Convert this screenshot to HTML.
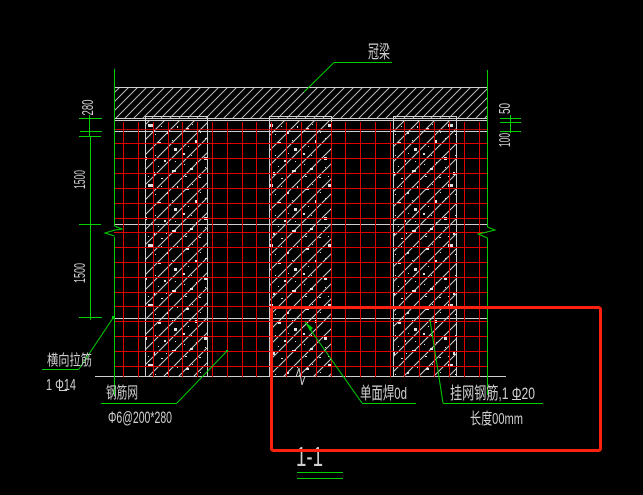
<!DOCTYPE html>
<html><head><meta charset="utf-8"><style>
html,body{margin:0;padding:0;background:#000;width:643px;height:495px;overflow:hidden}
svg{display:block}
text{fill:#cfcfcf;font-family:"Liberation Sans","Noto Sans CJK SC",sans-serif;font-size:14px}
.w{stroke:#cfcfcf;stroke-width:1;fill:none}
.g{stroke:#00d000;stroke-width:1;fill:none}
.r{stroke:#e00000;stroke-width:1;fill:none}
</style></head><body>
<svg width="643" height="495" viewBox="0 0 643 495" xmlns="http://www.w3.org/2000/svg">
<defs>
<pattern id="beam" width="9" height="9" patternUnits="userSpaceOnUse">
<path d="M-1 10L10 -1M-2 2L2 -2M7 11L11 7" stroke="#d0d0d0" stroke-width=".9"/>
</pattern>
<pattern id="conc" width="60" height="60" patternUnits="userSpaceOnUse">
<path d="M-2 17L17 -2M-2 32L32 -2M-2 47L47 -2M-2 62L62 -2M13 62L62 13M28 62L62 28M43 62L62 43M58 62L62 58" stroke="#d4d4d4" stroke-width="1"/>
<g fill="#e0e0e0">
<rect x="6" y="8" width="3" height="2"/><rect x="28" y="4" width="5" height="3"/><rect x="47" y="12" width="2" height="2"/>
<rect x="15" y="20" width="2" height="3"/><rect x="38" y="22" width="3" height="2"/><rect x="54" y="28" width="3" height="3"/>
<rect x="3" y="33" width="2" height="2"/><rect x="24" y="37" width="3" height="3"/><rect x="44" y="40" width="2" height="2"/>
<rect x="10" y="48" width="3" height="2"/><rect x="33" y="52" width="2" height="3"/><rect x="52" y="50" width="4" height="2"/>
<rect x="19" y="57" width="2" height="1"/><rect x="41" y="58" width="2" height="1"/><rect x="57" y="6" width="1" height="2"/>
<rect x="20" y="12" width="1" height="1"/><rect x="35" y="14" width="1" height="1"/><rect x="8" y="26" width="1" height="1"/><rect x="30" y="29" width="1" height="1"/><rect x="48" y="33" width="1" height="1"/><rect x="16" y="42" width="1" height="1"/><rect x="38" y="46" width="1" height="1"/>
<rect x="12" y="4" width="1" height="1"/><rect x="41" y="6" width="1" height="1"/><rect x="25" y="18" width="2" height="1"/><rect x="52" y="20" width="1" height="1"/><rect x="11" y="35" width="1" height="1"/><rect x="35" y="35" width="1" height="1"/><rect x="55" y="41" width="1" height="1"/><rect x="4" y="44" width="1" height="1"/><rect x="25" y="47" width="1" height="1"/><rect x="46" y="53" width="1" height="1"/><rect x="5" y="56" width="2" height="1"/><rect x="28" y="56" width="1" height="1"/>
</g>
</pattern>
</defs>
<rect width="643" height="495" fill="#000"/>

<!-- beam -->
<rect x="115" y="87" width="372" height="31" fill="url(#beam)"/>

<!-- columns -->
<rect x="146" y="121" width="62" height="255" fill="url(#conc)"/>
<rect x="270" y="121" width="62" height="255" fill="url(#conc)"/>
<rect x="394" y="121" width="63" height="255" fill="url(#conc)"/>

<g shape-rendering="crispEdges">
<path class="w" d="M114 87.5H487M114 118.5H487M114 120.5H487M114 131.5H487M114 224.5H487M114 318.5H487M95 376.5H506"/>
<path class="w" d="M145.5 376V116.5H207.5V376M269.5 376V116.5H331.5V376M393.5 376V116.5H456.5V376"/>
</g>

<!-- red mesh -->
<g shape-rendering="crispEdges">
<path class="r" stroke-opacity=".8" d="M114 129.5H487"/>
<path class="r" d="M114 143.5H487M114 158.5H487M114 173.5H487M114 188.5H487M114 203.5H487M114 218.5H487M114 232.5H487M114 247.5H487M114 262.5H487M114 277.5H487M114 292.5H487M114 306.5H487M114 321.5H487M114 336.5H487M114 351.5H487M114 366.5H487"/>
<path class="r" d="M123.5 122V377M138.5 122V377M153.5 122V377M168.5 122V377M182.5 122V377M197.5 122V377M212.5 122V377M227.5 122V377M242.5 122V377M256.5 122V377M271.5 122V377M286.5 122V377M301.5 122V377M316.5 122V377M331.5 122V377M345.5 122V377M360.5 122V377M375.5 122V377M390.5 122V377M404.5 122V377M419.5 122V377M434.5 122V377M449.5 122V377M464.5 122V377M479.5 122V377"/>
</g>

<!-- break in base line -->
<path d="M296 377L299 368L302 385L305 376" stroke="#cfcfcf" fill="none"/>

<!-- green -->
<g shape-rendering="crispEdges">
<path class="g" d="M114.5 69V226M114.5 237V396M487.5 70V227M487.5 238V395"/>
<path class="g" d="M89.5 115V136M90.5 136V320"/>
<path class="g" d="M79 118.5H102M80 131.5H102M79 136.5H101M79 224.5H101M79 317.5H102"/>
<path class="g" d="M510.5 115V133M500 118.5H521M500 122.5H521M500 131.5H521"/>
<path class="g" d="M297 472.5H343M297 478.5H343"/>
<path class="g" d="M334 62.5H392M42 369.5H79M101 403.5H177M362 403.5H416M443 403.5H543"/>
</g>
<path class="g" d="M114.5 226L122 229L115 230L105 233L114.5 236"/>
<path class="g" d="M487.5 227L495 230L487 232L478 234L487.5 238"/>
<path class="g" d="M304 92L334 62.5M79 369L113 318M177 403L227 351M362 403L305 322M443 403L430 320"/>
<path d="M305 322L310 331L313 328Z" fill="#00d000"/>
<rect x="112" y="316" width="3" height="3" fill="#00d000"/>
<rect x="226" y="350" width="2" height="2" fill="#00d000"/>

<!-- dim text -->
<text transform="translate(93,115.5) rotate(-90)" textLength="16" lengthAdjust="spacingAndGlyphs" style="font-size:16px">280</text>
<text transform="translate(85,189) rotate(-90)" textLength="19" lengthAdjust="spacingAndGlyphs" style="font-size:16px">1500</text>
<text transform="translate(85,283) rotate(-90)" textLength="20" lengthAdjust="spacingAndGlyphs" style="font-size:16px">1500</text>
<text transform="translate(510,114) rotate(-90)" textLength="11" lengthAdjust="spacingAndGlyphs" style="font-size:16px">50</text>
<text transform="translate(510,147) rotate(-90)" textLength="14" lengthAdjust="spacingAndGlyphs" style="font-size:16px">100</text>

<!-- labels -->
<text x="368" y="58" textLength="22" lengthAdjust="spacingAndGlyphs" style="font-size:18px">冠梁</text>
<text x="47" y="365" textLength="45" lengthAdjust="spacingAndGlyphs" style="font-size:15px">横向拉筋</text>
<text x="46" y="390" textLength="30" lengthAdjust="spacingAndGlyphs" style="font-size:16px">1 Φ14</text>
<path d="M59 390.5H67" stroke="#cfcfcf"/>
<text x="106" y="398" textLength="32" lengthAdjust="spacingAndGlyphs" style="font-size:16px">钢筋网</text>
<text x="108" y="423" textLength="64" lengthAdjust="spacingAndGlyphs" style="font-size:17px">Φ6@200*280</text>
<text x="360" y="399" textLength="47" lengthAdjust="spacingAndGlyphs" style="font-size:17px">单面焊0d</text>
<text x="450" y="399" textLength="85" lengthAdjust="spacingAndGlyphs" style="font-size:17px">挂网钢筋,1 Φ20</text>
<path d="M512 399.5H521" stroke="#cfcfcf"/>
<text x="470" y="424" textLength="53" lengthAdjust="spacingAndGlyphs" style="font-size:16px">长度00mm</text>
<text x="296" y="466" textLength="27" lengthAdjust="spacingAndGlyphs" style="font-size:28px;font-weight:normal">1-1</text>

<!-- red highlight box -->
<rect x="271.5" y="307.5" width="329" height="143" rx="2" fill="none" stroke="#ff2010" stroke-width="3"/>
</svg>
</body></html>
